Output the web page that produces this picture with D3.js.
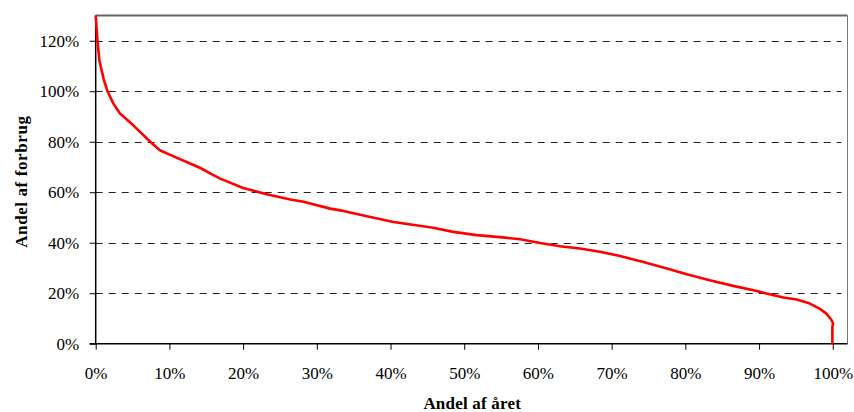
<!DOCTYPE html>
<html>
<head>
<meta charset="utf-8">
<script src="https://cdn.jsdelivr.net/npm/d3@7"></script>
<style>
  html, body { margin: 0; padding: 0; background: #fff; }
  svg { display: block; }
</style>
</head>
<body>
<svg id="chart" width="854" height="412"></svg>
<script>
// Share of the year (%) and share of consumption (%)
const shareOfYear = [0, 0.24, 0.5, 1.06, 1.6, 2.4, 3.3, 5.1, 7.4, 8.7, 10.5, 12.8, 14.2, 15.4, 16.9, 20, 23.2, 26.4, 28.2, 31.8, 33.6, 36.8, 40.4, 43.7, 45.8, 48.5, 51.7, 54.8, 57.6, 60.3, 63, 65.7, 68.4, 71.0, 74.3, 77.5, 80.2, 83.3, 86.5, 89.7, 91, 93.3, 95.1, 96.9, 98.2, 99.1, 99.8, 100.05, 99.95, 99.95];
const consumption = [130, 120, 112.3, 105, 100, 95.1, 91.2, 86.5, 80, 76.6, 74.3, 71.4, 69.6, 67.7, 65.4, 61.7, 59.2, 57.1, 56.2, 53.5, 52.6, 50.5, 48.2, 46.8, 45.9, 44.3, 43.0, 42.2, 41.4, 39.9, 38.6, 37.7, 36.4, 34.8, 32.4, 29.8, 27.5, 25.1, 22.9, 20.9, 19.9, 18.3, 17.5, 15.9, 13.9, 12.0, 9.5, 8.0, 6.7, 0];
const xTicks = [0, 10, 20, 30, 40, 50, 60, 70, 80, 90, 100];
const yTicks = [0, 20, 40, 60, 80, 100, 120];
const xTitle = "Andel af året";
const yTitle = "Andel af forbrug";

(function () {
const svg = d3.select("#chart");
const L = 95.7, R = 847.5, T = 15.5, B = 343.7;
const FONT = "'Liberation Serif', 'Times New Roman', serif";

const x = d3.scaleLinear().domain([0, 102]).range([L, R]);
const y = d3.scaleLinear().domain([0, 130]).range([B, T]);

// gridlines
svg.append("g").selectAll("line").data(yTicks.filter(d => d > 0)).join("line")
  .attr("x1", L).attr("x2", R - 6)
  .attr("y1", d => Math.round(y(d)) + 0.5).attr("y2", d => Math.round(y(d)) + 0.5)
  .attr("stroke", "#222").attr("stroke-width", 1).attr("stroke-dasharray", "7,6");

// plot frame (top & right gray)
svg.append("line").attr("x1", L).attr("x2", R).attr("y1", T).attr("y2", T)
  .attr("stroke", "#666").attr("stroke-width", 2);
svg.append("line").attr("x1", R).attr("x2", R).attr("y1", T).attr("y2", B)
  .attr("stroke", "#777").attr("stroke-width", 1);

// Y axis
const yAxis = d3.axisLeft(y).tickValues(yTicks).tickFormat(d => d + "%").tickSize(6).tickPadding(10.5);
const gy = svg.append("g").attr("transform", `translate(${L},0)`).call(yAxis)
  .attr("font-family", FONT).attr("font-size", 17);
gy.select(".domain").attr("stroke", "#000").attr("stroke-width", 1.5).attr("d", `M0,${T}V${B}`);
gy.selectAll(".tick line").attr("stroke", "#000");
gy.selectAll("text").attr("fill", "#000");

// X axis
const xAxis = d3.axisBottom(x).tickValues(xTicks).tickFormat(d => d + "%").tickSize(6).tickPadding(17);
const gx = svg.append("g").attr("transform", `translate(0,${B})`).call(xAxis)
  .attr("font-family", FONT).attr("font-size", 17);
gx.select(".domain").attr("stroke", "#000").attr("stroke-width", 1.5).attr("d", `M${L - 6},0H${R}`);
gx.selectAll(".tick line").attr("stroke", "#000");
gx.selectAll("text").attr("fill", "#000");

// curve
const pts = shareOfYear.map((d, i) => [d, consumption[i]]);
svg.append("path").datum(pts)
  .attr("fill", "none").attr("stroke", "#ff0000").attr("stroke-width", 2.6)
  .attr("stroke-linejoin", "round")
  .attr("d", d3.line().x(d => x(d[0])).y(d => y(d[1])));

// axis titles
svg.append("text").attr("x", (L + x(100)) / 2 + 8).attr("y", 409)
  .attr("text-anchor", "middle").attr("font-family", FONT)
  .attr("font-size", 17).attr("font-weight", "bold").attr("letter-spacing", 0.2)
  .text(xTitle);
svg.append("text").attr("transform", `translate(27,${(T + B) / 2 + 2}) rotate(-90)`)
  .attr("text-anchor", "middle").attr("font-family", FONT)
  .attr("font-size", 17).attr("font-weight", "bold").attr("letter-spacing", 0.6)
  .text(yTitle);
})();
</script>
</body>
</html>
